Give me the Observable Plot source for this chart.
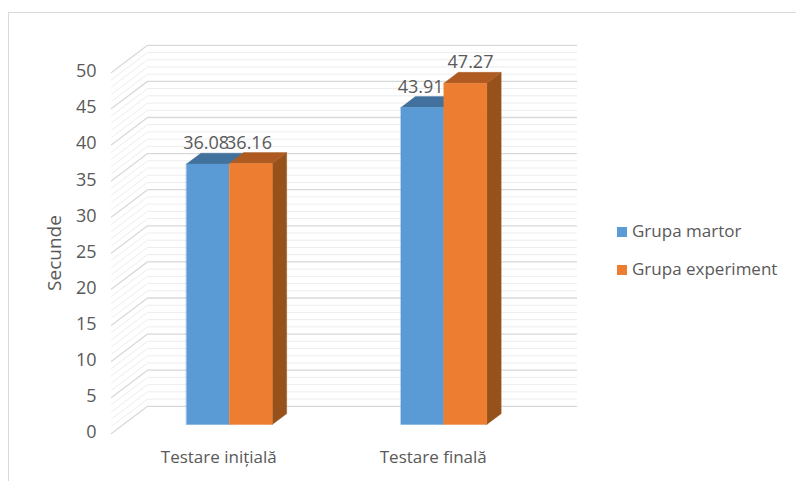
<!DOCTYPE html>
<html><head><meta charset="utf-8">
<script src="https://cdn.jsdelivr.net/npm/d3@7"></script>
<script src="https://cdn.jsdelivr.net/npm/@observablehq/plot@0.6"></script>
<style>
html,body{margin:0;padding:0;background:#fff;width:796px;height:481px;overflow:hidden;position:relative;font-family:"Open Sans",sans-serif}
#frame{position:absolute;left:8px;top:12px;width:800px;height:480px;border:1.5px solid #d9d9d9;box-sizing:border-box}
#chart{position:absolute;left:0;top:0}
#chart svg{display:block;background:transparent}
.leg{position:absolute;left:617px;font-size:17px;color:#595959;line-height:18px;white-space:nowrap}
.leg i{display:inline-block;width:10px;height:10px;margin-right:5px;vertical-align:0}
</style></head><body>
<div id="frame"></div>
<div id="chart"></div>
<div class="leg" style="top:222px"><i style="background:#5b9bd5"></i>Grupa martor</div>
<div class="leg" style="top:260px"><i style="background:#ed7d31"></i>Grupa experiment</div>
<script>
const categories = ["Testare inițială", "Testare finală"];
const seriesNames = ["Grupa martor", "Grupa experiment"];
const martor = [36.08, 43.91];
const experiment = [36.16, 47.27];
const colors = {front: ["#5b9bd5", "#ed7d31"], top: ["#41719c", "#ae5a21"], side: ["#3f6f9c", "#97521c"]};
const majorTicks = d3.range(0, 51, 5);
const minorTicks = d3.range(0, 51, 1).filter(v => v % 5 !== 0);

// oblique projection: depth d in [0,1] shifts a data point on both scales
const depthX = 0.168, depthY = 3.77;
const P = (x, y, d) => ({X: x + d * depthX, Y: y + d * depthY});
const barWidth = 0.2, barStart = 0.294, d0 = 0.33, d1 = 0.73;

const polys = [];
const addPoly = (id, fill, pts) => pts.forEach(p => polys.push({id, fill, ...P(...p)}));
[martor, experiment].forEach((vals, s) => vals.forEach((v, c) => {
  const a = c + barStart + s * barWidth, b = a + barWidth;
  if (s === 1) addPoly(`side${s}${c}`, colors.side[s], [[b,0,d0],[b,0,d1],[b,v,d1],[b,v,d0]]);
  addPoly(`top${s}${c}`, colors.top[s], [[a,v,d0],[a,v,d1],[b,v,d1],[b,v,d0]]);
  addPoly(`front${s}${c}`, colors.front[s], [[a,0,d0],[b,0,d0],[b,v,d0],[a,v,d0]]);
}));

const gridFor = ticks => ticks.flatMap(t => [P(0,t,0), P(0,t,1), P(2,t,1)].map(p => ({...p, t})));
const labels = [];
[martor, experiment].forEach((vals, s) => vals.forEach((v, c) => {
  const p = P(c + barStart + (s + 0.5) * barWidth, v, 0.53);
  labels.push({...p, text: v.toFixed(2), last: s === 1 && c === 1});
}));

const plot = Plot.plot({
  width: 796, height: 481,
  x: {domain: [0, 2], range: [111, 540], axis: null},
  y: {domain: [0, 50], range: [433, 72], axis: null},
  style: {background: "transparent", fontFamily: "'Open Sans', sans-serif"},
  marks: [
    Plot.line(gridFor(minorTicks), {x: "X", y: "Y", z: "t", stroke: "#ededed", strokeWidth: 1}),
    Plot.line(gridFor(majorTicks), {x: "X", y: "Y", z: "t", stroke: "#d9d9d9", strokeWidth: 1.3}),
    Plot.line(polys, {x: "X", y: "Y", z: "id", fill: "fill", stroke: "fill", strokeWidth: 0.4, curve: "linear-closed"}),
    Plot.axisY(majorTicks, {anchor: "left", x: 0, tickSize: 0, tickPadding: 15, fontSize: 18, fill: "#595959", label: null, dy: -1}),
    Plot.text(labels.filter(d => !d.last), {x: "X", y: "Y", text: "text", dx: -9, dy: -15, fontSize: 18, fill: "#595959"}),
    Plot.text(labels.filter(d => d.last), {x: "X", y: "Y", text: "text", dx: -2, dy: -16, fontSize: 18, fill: "#595959"}),
    Plot.text(categories, {x: (d, i) => i + 0.5, y: 0, text: d => d, dy: 24, fontSize: 17, fill: "#595959"}),
    Plot.text(["Secunde"], {x: 0, y: 25, text: d => d, rotate: -90, dx: -57, fontSize: 19, fill: "#595959"})
  ]
});
document.getElementById("chart").append(plot);
</script></body></html>
